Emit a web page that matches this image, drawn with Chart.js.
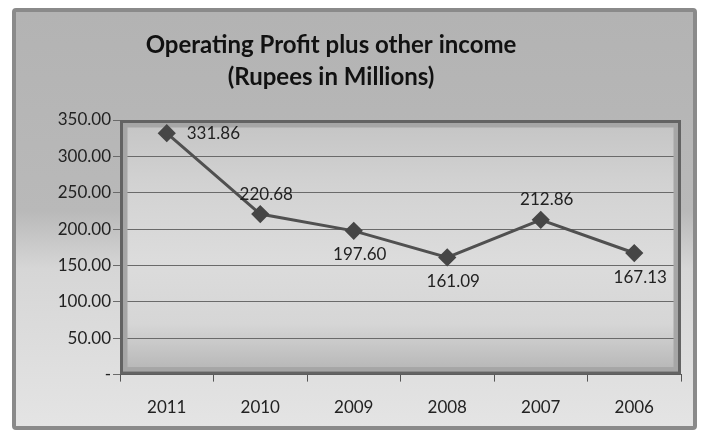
<!DOCTYPE html>
<html>
<head>
<meta charset="utf-8">
<script src="https://cdn.jsdelivr.net/npm/chart.js@4.4.0/dist/chart.umd.min.js"></script>
<style>
  html, body { margin: 0; padding: 0; background: #ffffff; }
  #frame {
    position: absolute; left: 12px; top: 8px; width: 685px; height: 422px;
    box-sizing: border-box; border: 4px solid #8a8a8a; border-radius: 4px;
    background: linear-gradient(to bottom, #b3b3b3 0%, #b9b9b9 48%, #d6d6d6 62%, #e4e4e4 100%);
  }
  #wrap { position: absolute; left: 0; top: 0; width: 705px; height: 434px; }
</style>
</head>
<body>
<div id="frame"></div>
<div id="wrap"><canvas id="myChart" width="705" height="434"></canvas></div>
<script>
// data
const years = ['2011', '2010', '2009', '2008', '2007', '2006'];
const profit = [331.86, 220.68, 197.60, 161.09, 212.86, 167.13];
const yTicks = [0, 50, 100, 150, 200, 250, 300, 350];
const titleLines = ['Operating Profit plus other income', '(Rupees in Millions)'];

// where each value label sits relative to its point
const labelSide = ['right', 'above', 'below', 'below', 'above', 'below'];

const fontFamily = 'Lato, "Open Sans", sans-serif';

const plotBackground = {
    id: 'plotBackground',
    beforeDraw(chart) {
        const { ctx, chartArea: a } = chart;
        ctx.save();
        const g = ctx.createLinearGradient(0, a.top, 0, a.bottom);
        g.addColorStop(0, '#c4c4c4');
        g.addColorStop(0.25, '#d2d2d2');
        g.addColorStop(0.55, '#dcdcdc');
        g.addColorStop(0.8, '#d6d6d6');
        g.addColorStop(1, '#b4b4b4');
        ctx.fillStyle = g;
        ctx.fillRect(a.left, a.top, a.right - a.left, a.bottom - a.top);
        ctx.restore();
    },
    beforeDatasetsDraw(chart) {
        const { ctx, chartArea: a } = chart;
        ctx.save();
        ctx.strokeStyle = '#a6a6a6';
        ctx.lineWidth = 5;
        ctx.strokeRect(a.left + 5, a.top + 5, a.right - a.left - 10, a.bottom - a.top - 10);
        ctx.strokeStyle = '#636363';
        ctx.lineWidth = 3;
        ctx.strokeRect(a.left + 1.5, a.top + 1.5, a.right - a.left - 3, a.bottom - a.top - 3);
        ctx.restore();
    }
};

const titleText = {
    id: 'titleText',
    afterDraw(chart) {
        const { ctx } = chart;
        ctx.save();
        ctx.font = 'bold 24px ' + fontFamily;
        ctx.fillStyle = '#111111';
        ctx.textAlign = 'center';
        ctx.textBaseline = 'middle';
        ctx.fillText(titleLines[0], 331, 45);
        ctx.fillText(titleLines[1], 331, 77);
        ctx.restore();
    }
};

const valueLabels = {
    id: 'valueLabels',
    afterDatasetsDraw(chart) {
        const { ctx } = chart;
        const meta = chart.getDatasetMeta(0);
        ctx.save();
        ctx.font = '17px ' + fontFamily;
        ctx.fillStyle = '#222222';
        ctx.textBaseline = 'middle';
        meta.data.forEach((pt, i) => {
            const txt = profit[i].toFixed(2);
            const side = labelSide[i];
            if (side === 'right') {
                ctx.textAlign = 'left';
                ctx.fillText(txt, pt.x + 20, pt.y);
            } else if (side === 'above') {
                ctx.textAlign = 'center';
                ctx.fillText(txt, pt.x + 6, pt.y - 20);
            } else {
                ctx.textAlign = 'center';
                ctx.fillText(txt, pt.x + 6, pt.y + 24);
            }
        });
        ctx.restore();
    }
};

const chartContext = document.getElementById('myChart').getContext('2d');
const myChart = new Chart(chartContext, {
    type: 'line',
    data: {
        labels: years,
        datasets: [{
            data: profit,
            borderColor: '#505050',
            borderWidth: 3,
            pointStyle: 'rectRot',
            pointRadius: 7,
            pointBackgroundColor: '#464646',
            pointBorderColor: '#464646',
            tension: 0
        }]
    },
    options: {
        responsive: false,
        animation: false,
        layout: { padding: { left: 0, right: 24, top: 120, bottom: 0 } },
        plugins: {
            legend: { display: false },
            tooltip: { enabled: false },
            title: { display: false }
        },
        scales: {
            x: {
                offset: true,
                grid: { drawOnChartArea: false, drawTicks: true, tickLength: 7, color: '#555555', offset: true },
                border: { display: true, color: '#555555' },
                ticks: { color: '#222222', padding: 16, font: { family: fontFamily, size: 17 } }
            },
            y: {
                min: 0,
                max: 350,
                afterFit(scale) { scale.width = 120; },
                afterBuildTicks(scale) { scale.ticks = yTicks.map(v => ({ value: v })); },
                grid: { color: '#6a6a6a', lineWidth: 1, tickLength: 7 },
                border: { display: true, color: '#555555' },
                ticks: {
                    color: '#222222',
                    padding: 2,
                    font: { family: fontFamily, size: 17 },
                    callback: v => v === 0 ? '-' : v.toFixed(2)
                }
            }
        }
    },
    plugins: [plotBackground, titleText, valueLabels]
});
</script>
</body>
</html>
